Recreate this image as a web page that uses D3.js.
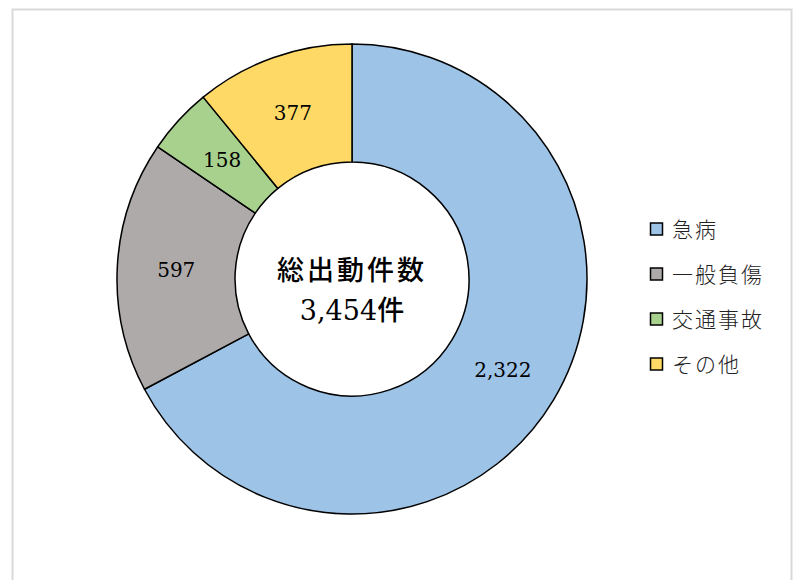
<!DOCTYPE html>
<html>
<head>
<meta charset="utf-8">
<script src="https://cdn.jsdelivr.net/npm/d3@7"></script>
<style>
  body { margin: 0; background: #fff; }
  svg { display: block; }
</style>
</head>
<body>
<div id="chart"></div>
<script>
// 出動件数の内訳
const categories = ["急病", "一般負傷", "交通事故", "その他"];
const values = [2322, 597, 158, 377];
const colors = ["#9DC3E6", "#AEAAAA", "#A9D18E", "#FFD966"];
const centerTitle = "総出動件数";
const centerUnit = "件";

const width = 798;
const height = 580;
const cx = 352, cy = 279;
const outerR = 235, innerR = 117;

const svg = d3.select("#chart").append("svg")
    .attr("width", width)
    .attr("height", height);

// 外枠
svg.append("rect")
    .attr("x", 12.5).attr("y", 9.5)
    .attr("width", 779).attr("height", 600)
    .attr("fill", "#fff")
    .attr("stroke", "#d9d9d9")
    .attr("stroke-width", 2);

const data = categories.map((c, i) => ({name: c, value: values[i], color: colors[i]}));

const pie = d3.pie().value(d => d.value).sort(null);
const arc = d3.arc().innerRadius(innerR).outerRadius(outerR);
const labelArc = d3.arc().innerRadius((innerR + outerR) / 2).outerRadius((innerR + outerR) / 2);

const g = svg.append("g").attr("transform", `translate(${cx},${cy})`);

const arcs = pie(data);

g.selectAll("path")
    .data(arcs)
    .enter().append("path")
    .attr("d", arc)
    .attr("fill", d => d.data.color)
    .attr("stroke", "#000")
    .attr("stroke-width", 1.5)
    .attr("stroke-linejoin", "round");

g.selectAll(".val")
    .data(arcs)
    .enter().append("text")
    .attr("class", "val")
    .attr("transform", d => `translate(${labelArc.centroid(d)})`)
    .attr("text-anchor", "middle")
    .attr("dy", "0.36em")
    .attr("font-family", "'DejaVu Serif', serif")
    .attr("font-size", 20)
    .attr("fill", "#000")
    .text(d => d3.format(",")(d.data.value));

// 中央のテキスト
const total = d3.sum(values);
g.append("text")
    .attr("x", 0).attr("y", 1)
    .attr("text-anchor", "middle")
    .attr("font-family", "'Noto Sans CJK JP', sans-serif")
    .attr("font-size", 27)
    .attr("font-weight", 500)
    .attr("letter-spacing", 3)
    .attr("fill", "#000")
    .text(centerTitle);

const t2 = g.append("text")
    .attr("x", 0).attr("y", 41)
    .attr("text-anchor", "middle")
    .attr("font-size", 27)
    .attr("fill", "#000");
t2.append("tspan")
    .attr("font-family", "'DejaVu Serif', serif")
    .text(d3.format(",")(total));
t2.append("tspan")
    .attr("font-family", "'Noto Sans CJK JP', sans-serif")
    .attr("font-weight", 500)
    .text(centerUnit);

// 凡例
const legend = svg.append("g").attr("transform", "translate(650,229)");
const item = legend.selectAll("g")
    .data(data)
    .enter().append("g")
    .attr("transform", (d, i) => `translate(0,${i * 45})`);

item.append("rect")
    .attr("x", 0.5).attr("y", -6)
    .attr("width", 12).attr("height", 12)
    .attr("fill", d => d.color)
    .attr("stroke", "#000")
    .attr("stroke-width", 1.5);

item.append("text")
    .attr("x", 22).attr("y", 0)
    .attr("dy", "0.36em")
    .attr("font-family", "'Noto Sans CJK JP', sans-serif")
    .attr("font-size", 21)
    .attr("font-weight", 300)
    .attr("letter-spacing", 2)
    .attr("fill", "#222")
    .text(d => d.name);
</script>
</body>
</html>
